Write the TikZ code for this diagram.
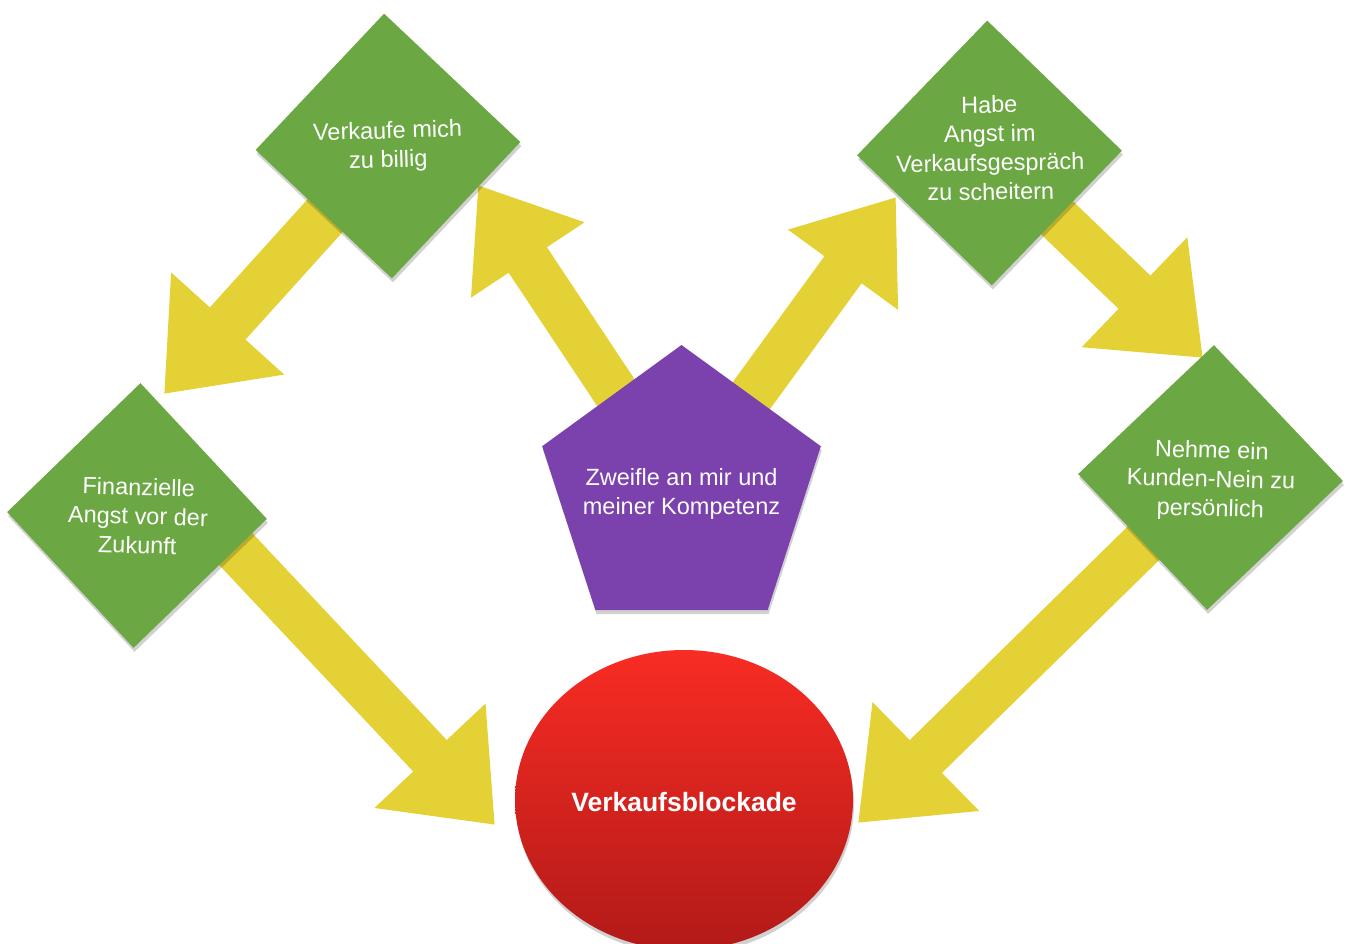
\documentclass[tikz,border=0pt]{standalone}
\usepackage{fontspec}
\setmainfont{Liberation Sans}
\usetikzlibrary{shapes.geometric,arrows.meta,shadows}
\definecolor{felt}{RGB}{107,168,67}
\definecolor{vio}{RGB}{123,65,173}
\definecolor{yel}{RGB}{227,209,54}
\definecolor{redtop}{RGB}{248,44,36}
\definecolor{redbot}{RGB}{178,26,24}
\pgfdeclarelayer{bg}
\pgfsetlayers{bg,main}
\begin{document}
\begin{tikzpicture}[x=1pt,y=-1pt,
  softshadow/.style={drop shadow={shadow xshift=1pt,shadow yshift=-4pt,opacity=0.18,fill=black}},
  greenbox/.style={diamond,aspect=1,fill=felt,inner sep=0pt,minimum width=265pt,minimum height=265pt,softshadow},
  lbl/.style={text=white,align=center,inner sep=0pt,font=\fontsize{23.5}{29}\selectfont},
  bigarrow/.style={draw=yel,line width=46pt,-{Triangle[length=95pt,width=146pt]}},
  smallhead/.style={-{Triangle[length=90pt,width=130pt]}}
]
\clip (0,0) rectangle (1349,944);
% shapes
\node[greenbox,rotate=1.7] (tl) at (388,146) {};
\node[greenbox,rotate=1] (tr) at (989.5,153) {};
\node[greenbox,rotate=-1.5,minimum width=260pt] (l) at (137,515.5) {};
\node[greenbox,rotate=-1.5] (r) at (1210.5,477.5) {};
\node[regular polygon,regular polygon sides=5,fill=vio,minimum size=293pt,inner sep=0pt,softshadow] (p) at (681.5,491.5) {};
\node[ellipse,minimum width=338pt,minimum height=300pt,inner sep=0pt,top color=redtop,bottom color=redbot,softshadow] (v) at (684,800) {};
% labels
\node[lbl,rotate=1.7] (ttl) at (388,147) {Verkaufe mich\\zu billig};
\node[lbl,rotate=1] (ttr) at (990,148) {Habe\\Angst im\\Verkaufsgespräch\\zu scheitern};
\node[lbl,rotate=-1.5] (tll) at (138,516) {Finanzielle\\Angst vor der\\Zukunft};
\node[lbl,rotate=-1.5] (trr) at (1211,481) {Nehme ein\\Kunden-Nein zu\\persönlich};
\node[lbl] (tp) at (681.5,494) {Zweifle an mir und\\meiner Kompetenz};
\node[text=white,inner sep=0pt,font=\bfseries\fontsize{26.5}{30}\selectfont] (tv) at (684,802) {Verkaufsblockade};
% arrow ends
\coordinate (tA) at (164,394);
\coordinate (tB) at (478,185);
\coordinate (tC) at (896,197);
\coordinate (tD) at (1203,358);
\coordinate (lout) at (200,511);
\coordinate (tE) at (495,825);
\coordinate (tF) at (858,823);
\begin{pgfonlayer}{bg}
\draw[bigarrow,line width=48pt] (tl.center) -- (tA);
\draw[bigarrow,smallhead] (p.center) -- (tB);
\draw[bigarrow,smallhead] (p.center) -- (tC);
\draw[bigarrow] (tr.center) -- (tD);
\draw[bigarrow] (lout) -- (tE);
\draw[bigarrow] (r.center) -- (tF);
\end{pgfonlayer}
\end{tikzpicture}
\end{document}
